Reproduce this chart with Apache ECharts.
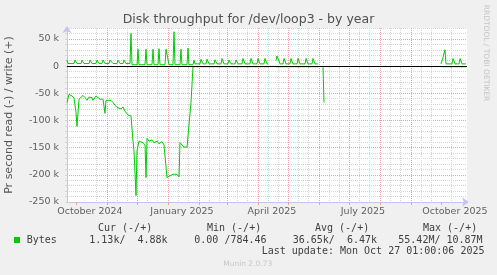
<!DOCTYPE html>
<html><head><meta charset="utf-8">
<script src="https://cdn.jsdelivr.net/npm/echarts@6/dist/echarts.min.js"></script>
<style>html,body{margin:0;padding:0;background:#f0f0f0}#c{width:497px;height:275px}</style>
</head><body><div id="c"></div>
<script>
// time range (400 days, one value per day)
const startTime = Date.UTC(2024, 8, 22, 1, 0, 0);
const endTime = Date.UTC(2025, 9, 27, 1, 0, 0);
const DAY = 86400000;
const monthNames = ['January','February','March','April','May','June','July','August','September','October','November','December'];

// grid / tick dates: [year, month(0-based), day]
const monthTicks = [[2024,9,1],[2024,10,1],[2024,11,1],[2025,0,1],[2025,1,1],[2025,2,1],[2025,3,1],[2025,4,1],[2025,5,1],[2025,6,1],[2025,7,1],[2025,8,1],[2025,9,1]];
const labelTicks = [[2024,9,1],[2025,0,1],[2025,3,1],[2025,6,1],[2025,9,1]];
const minorTicks = [[2024,8,11],[2024,8,21],[2024,9,11],[2024,9,21],[2024,10,11],[2024,10,21],[2024,11,11],[2024,11,21],
  [2025,0,11],[2025,0,21],[2025,1,11],[2025,1,21],[2025,2,11],[2025,2,21],[2025,3,11],[2025,3,21],[2025,4,11],[2025,4,21],
  [2025,5,11],[2025,5,21],[2025,6,11],[2025,6,21],[2025,7,11],[2025,7,21],[2025,8,11],[2025,8,21],[2025,9,11],[2025,9,21]];

// [day offset from start, bytes/s]  write (+)
const writePoints = [
  [0,11000],[1,4600],[7,4600],[8,11000],[9,11000],[10,4600],[14,4600],[15,11000],[16,11000],[17,4600],
  [22,4600],[23,11000],[24,11000],[25,4600],[29,4600],[30,11000],[31,11000],[32,4600],[35,4600],[36,11000],[37,11000],[38,4600],
  [42,4600],[43,11000],[45,11000],[46,4600],[50,4600],[51,11000],[52,11000],[53,4600],[56,4600],[57,11000],[58,11000],[59,4600],
  [63,4600],[64,60000],[65,2500],[70,2500],[71,31000],[72,2500],[78,2500],[79,31000],[80,2500],
  [85,2500],[86,31000],[87,2500],[91,2500],[92,32000],[93,2500],[98,2500],[99,31000],[101,31000],[102,2500],
  [106,2500],[107,63000],[108,2500],[113,2500],[114,31000],[115,2500],[120,2500],[121,33000],[122,2500],
  [126,2500],[127,11000],[128,4000],
  [133,4000],[134,12500],[135,12500],[136,4000],[139,4000],[140,12500],[141,12500],[142,4000],[147,4000],[148,11500],[149,11500],[150,4000],
  [154,4000],[155,14000],[156,14000],[157,4000],[161,4000],[162,11300],[163,11300],[164,4000],[168,4000],[169,11300],[170,11300],[171,4000],
  [175,4000],[176,14000],[177,14000],[178,4000],[183,4000],[184,14000],[185,14000],[186,4000],[190,4000],[191,14000],[192,14000],[193,4000],
  [197,4000],[198,14000],[199,14000],[200,4000],[201,4000],[205,null],
  [209,10000],[210,18500],[211,18500],[213,4000],[216,4000],[217,14000],[218,14000],[219,4000],[223,4000],[224,14000],[225,14000],[226,4000],
  [230,4000],[231,14000],[232,14000],[233,4000],[238,4000],[239,14000],[240,14000],[241,4000],[245,4000],[246,14000],[247,14000],[248,4000],
  [251,4000],[253,null],[256,6400],[257,6400],[300,null],
  [374,4000],[376,16000],[377,24000],[378,30000],[379,4000],[385,4000],[386,13800],[387,13800],[388,4000],
  [392,4000],[393,13800],[394,13800],[395,4000],[399,4000]
];

// read (-)
const readPoints = [
  [0,-67000],[2,-52000],[5,-55000],[7,-59000],[8,-61000],[9,-85000],[10,-111000],[11,-111000],[12,-61000],
  [14,-61000],[16,-54000],[18,-58000],[20,-63000],[22,-57000],[25,-58000],[26,-63000],[29,-55000],
  [31,-57000],[33,-61000],[36,-61000],[37,-63000],[38,-87000],[39,-63000],[41,-61000],[44,-63000],
  [46,-67000],[48,-72000],[50,-76000],[52,-73000],[54,-79000],[56,-75000],[58,-83000],[60,-86000],
  [61,-90000],[64,-92000],[66,-138000],[67,-156000],[68,-156000],[69,-238000],[70,-156000],[72,-138000],
  [73,-141000],[76,-141000],[78,-145000],[79,-205000],[80,-133000],[82,-138000],[85,-136000],[87,-141000],
  [90,-138000],[92,-143000],[95,-139000],[97,-145000],[99,-147000],[100,-205000],[103,-202000],
  [106,-199000],[108,-202000],[110,-199000],[112,-204000],[113,-141000],[115,-144000],[117,-149000],
  [120,-149000],[122,-147000],[124,-67000],[126,-1200],[201,-1200],[205,null],
  [209,-1200],[251,-1200],[253,null],[256,-1200],[257,-67000],[300,null],
  [374,-1200],[399,-1200]
];

const yAxisName = 'Pr second read (-) / write (+)';
const legendHeaders = ['Cur (-/+)', 'Min (-/+)', 'Avg (-/+)', 'Max (-/+)'];
const legendSeriesName = 'Bytes';
const legendValues = ['1.13k/  4.88k', '0.00 /784.46', '36.65k/  6.47k', '55.42M/ 10.87M'];
const lastUpdate = 'Last update: Mon Oct 27 01:00:06 2025';

const toSeries = pts => pts.map(p => [startTime + p[0] * DAY, p[1]]);
const toTime = d => Date.UTC(d[0], d[1], d[2]);

const chart = echarts.init(document.getElementById('c'), null, {renderer: 'canvas'});
const mono = '10px "DejaVu Sans Mono"';
const headerX = [98, 207, 315, 423];
const valueX = [89.3, 194.3, 292.7, 398.3];

const graphics = [
  {type:'text', x:248.5, y:19.5, style:{text:'Disk throughput for /dev/loop3 - by year', font:'12.5px "DejaVu Sans"', fill:'#505050', textAlign:'center', textVerticalAlign:'middle'}},
  {type:'text', x:486, y:53, rotation:-Math.PI/2, style:{text:'RRDTOOL / TOBI OETIKER', font:'7.5px "DejaVu Sans"', fill:'#c4c4c4', textAlign:'center', textVerticalAlign:'middle'}},
  {type:'rect', shape:{x:14, y:237, width:6, height:6}, style:{fill:'#00cc00'}},
  {type:'text', x:26.7, y:240, style:{text:legendSeriesName, font:mono, fill:'#404040', textAlign:'left', textVerticalAlign:'middle'}},
  {type:'text', x:261.7, y:251.7, style:{text:lastUpdate, font:mono, fill:'#404040', textAlign:'left', textVerticalAlign:'middle'}},
  {type:'text', x:247.7, y:264.3, style:{text:'Munin 2.0.73', font:'7.5px "DejaVu Sans"', fill:'#c8c8c8', textAlign:'center', textVerticalAlign:'middle'}}
];
legendHeaders.forEach((t, i) => graphics.push({type:'text', x:headerX[i], y:228, style:{text:t, font:mono, fill:'#404040', textAlign:'left', textVerticalAlign:'middle'}}));
legendValues.forEach((t, i) => graphics.push({type:'text', x:valueX[i], y:240, style:{text:t, font:mono, fill:'#404040', textAlign:'left', textVerticalAlign:'middle'}}));

const axisColor = '#c4c4ee';
const majorColor = '#eea0a0';
const minorColor = '#d4d4d4';

chart.setOption({
  animation: false,
  backgroundColor: '#f0f0f0',
  grid: {left:67, right:30, top:28, bottom:73, show:true, backgroundColor:'#ffffff', borderWidth:0, containLabel:false, outerBoundsMode:'none'},
  xAxis: [
    { // minor grid (gray)
      type:'value', min:startTime, max:endTime, position:'bottom',
      axisLine:{show:false}, axisLabel:{show:false},
      axisTick:{show:true, length:2, lineStyle:{color:minorColor}, customValues:minorTicks.map(toTime)},
      splitLine:{show:true, showMinLine:false, showMaxLine:false, lineStyle:{color:minorColor, type:[1,1]}}
    },
    { // main axis (red month grid, labels)
      type:'value', min:startTime, max:endTime, position:'bottom',
      axisLine:{show:true, lineStyle:{color:axisColor}, symbol:['none','arrow'], symbolSize:[7,7], symbolOffset:[0,2]},
      axisTick:{show:true, length:3, lineStyle:{color:majorColor}, customValues:monthTicks.map(toTime)},
      splitLine:{show:true, showMinLine:false, showMaxLine:false, lineStyle:{color:majorColor, type:[1,1]}},
      axisLabel:{
        show:true, margin:5, color:'#606060', fontSize:9.5, fontFamily:'DejaVu Sans',
        padding:[0,0,0,28], customValues:labelTicks.map(toTime),
        formatter: v => { const d = new Date(v); return monthNames[d.getUTCMonth()] + ' ' + d.getUTCFullYear(); }
      }
    }
  ],
  yAxis: {
    type:'value', min:-250000, max:70000, interval:10000,
    name:yAxisName, nameLocation:'middle', nameGap:52,
    nameTextStyle:{fontSize:11, color:'#555', fontFamily:'DejaVu Sans'},
    axisLine:{show:true, lineStyle:{color:axisColor}, symbol:['none','arrow'], symbolSize:[7,7], symbolOffset:[0,2]},
    axisTick:{show:true, length:2, lineStyle:{color:minorColor}},
    splitLine:{show:true, lineStyle:{color:[majorColor, minorColor, minorColor, minorColor, minorColor], type:[1,1]}},
    axisLabel:{
      color:'#606060', fontSize:9.5, fontFamily:'DejaVu Sans', margin:8,
      formatter: v => (v % 50000 !== 0) ? '' : (v === 0 ? '0' : (v / 1000) + ' k')
    }
  },
  graphic: graphics,
  series: [
    {type:'line', name:'read', xAxisIndex:1, data:toSeries(readPoints), showSymbol:false, connectNulls:false,
     lineStyle:{color:'#00cc00', width:1}, itemStyle:{color:'#00cc00'},
     markLine:{silent:true, symbol:['none','none'], label:{show:false}, lineStyle:{color:'#000', width:1, type:'solid'}, data:[{yAxis:0}]}},
    {type:'line', name:'write', xAxisIndex:1, data:toSeries(writePoints), showSymbol:false, connectNulls:false,
     lineStyle:{color:'#00cc00', width:1}, itemStyle:{color:'#00cc00'}}
  ]
});
</script></body></html>
